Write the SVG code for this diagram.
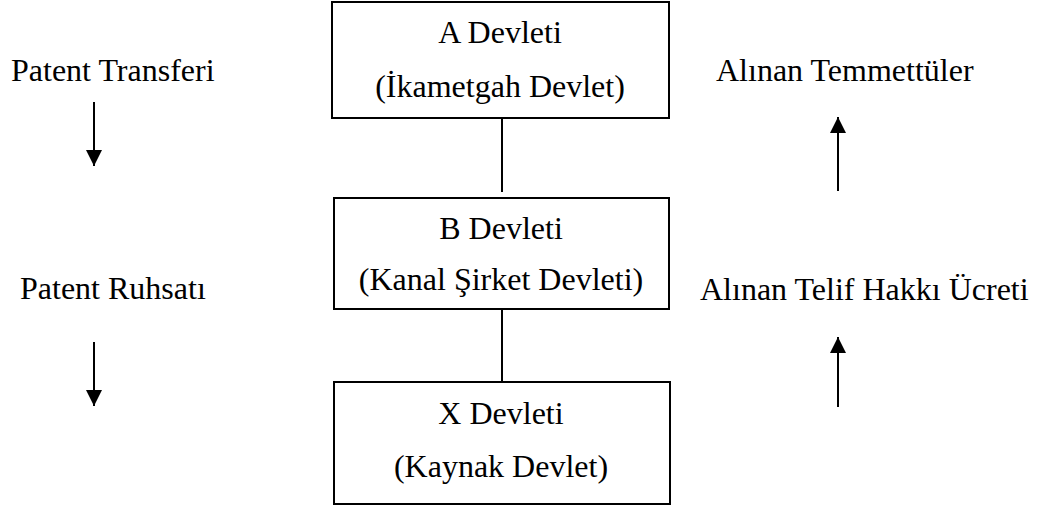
<svg xmlns="http://www.w3.org/2000/svg" width="1043" height="508" viewBox="0 0 1043 508">
  <style>
    .box { fill: #ffffff; stroke: #000000; stroke-width: 2; }
    .lbl { font-family: "Liberation Serif", "Times New Roman", serif; font-size: 32px; fill: #000000; }
    .mid { text-anchor: middle; }
    .link { stroke: #000000; stroke-width: 2; fill: none; }
  </style>
  <defs>
    <marker id="head" viewBox="0 0 16 16" refX="16" refY="8" markerWidth="16" markerHeight="16" markerUnits="userSpaceOnUse" orient="auto">
      <path d="M0,0 L16,8 L0,16 Z" fill="#000000"/>
    </marker>
  </defs>
  <rect width="1043" height="508" fill="#ffffff"/>

  <!-- links between the states and flow arrows -->
  <g id="connectors">
    <line class="link" x1="502" y1="118" x2="502" y2="192"/>
    <line class="link" x1="502" y1="309" x2="502" y2="382"/>
    <line class="link" x1="94" y1="102" x2="94" y2="166" marker-end="url(#head)"/>
    <line class="link" x1="94" y1="342" x2="94" y2="406" marker-end="url(#head)"/>
    <line class="link" x1="838" y1="191" x2="838" y2="117" marker-end="url(#head)"/>
    <line class="link" x1="838" y1="407" x2="838" y2="337" marker-end="url(#head)"/>
  </g>

  <g id="state-a">
    <rect class="box" x="332" y="2" width="337" height="116"/>
    <text class="lbl mid" x="500" y="43">A Devleti</text>
    <text class="lbl mid" x="500" y="97">(İkametgah Devlet)</text>
  </g>

  <g id="state-b">
    <rect class="box" x="334" y="198" width="335" height="111"/>
    <text class="lbl mid" x="501" y="239">B Devleti</text>
    <text class="lbl mid" x="501" y="290">(Kanal Şirket Devleti)</text>
  </g>

  <g id="state-x">
    <rect class="box" x="334" y="382" width="336" height="122"/>
    <text class="lbl mid" x="501" y="424">X Devleti</text>
    <text class="lbl mid" x="501" y="477">(Kaynak Devlet)</text>
  </g>

  <g id="label-patent-transfer">
    <text class="lbl" x="11" y="81">Patent Transferi</text>
  </g>
  <g id="label-patent-license">
    <text class="lbl" x="20" y="299">Patent Ruhsatı</text>
  </g>
  <g id="label-dividends">
    <text class="lbl" x="716" y="81">Alınan Temmettüler</text>
  </g>
  <g id="label-royalty">
    <text class="lbl" x="700" y="300">Alınan Telif Hakkı Ücreti</text>
  </g>
</svg>
